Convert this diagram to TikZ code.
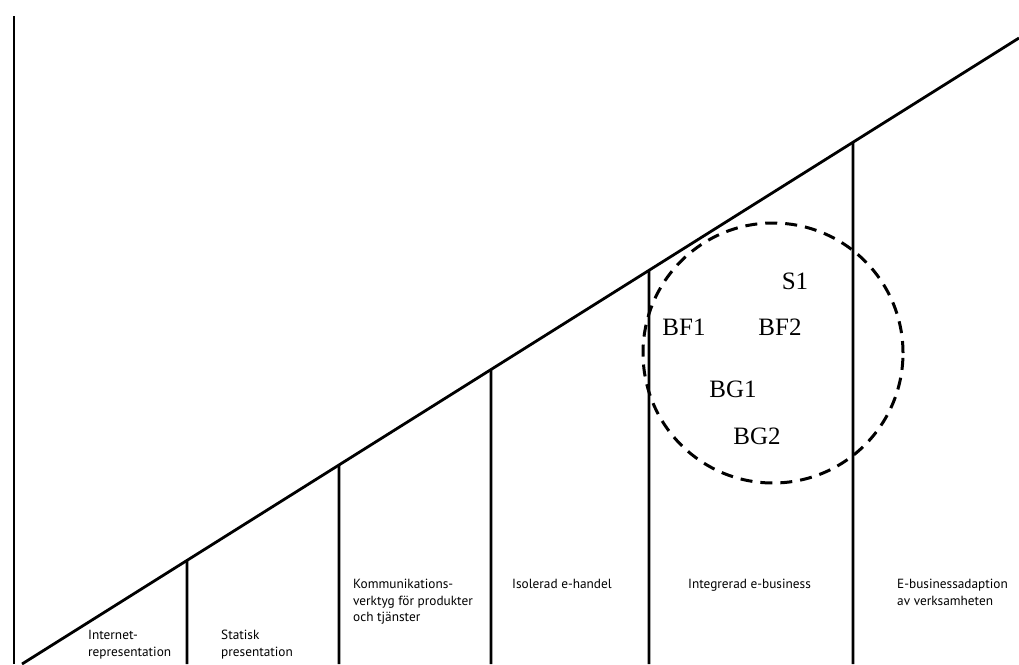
\documentclass[tikz,border=0pt]{standalone}
\usepackage{fontspec}
\setmainfont{Liberation Serif}
\newfontfamily\labelfont{PT Sans}
\begin{document}
\begin{tikzpicture}[x=1pt,y=-1pt,
  thick line/.style={line width=2.8pt,line cap=butt},
  stagetext/.style={font=\labelfont\fontsize{13.3}{16.5}\selectfont,anchor=north west,inner sep=0pt,align=left},
  codetext/.style={font=\fontsize{25}{28}\selectfont,inner sep=0pt},
  zone/.style={line width=3pt,dash pattern=on 12pt off 8pt}]
\useasboundingbox (0,0) rectangle (1019,664);
\clip (0,0) rectangle (1019,664);
% axis and slope
\coordinate (top) at (14,16);
\coordinate (origin) at (14,664);
\coordinate (A) at (22,664);
\coordinate (B) at (1019,38);
\draw[thick line] (top) -- (origin);
\draw[thick line] (A) -- (B);
% dividers
\foreach \x/\n in {187/d1,339/d2,491/d3,649/d4,853/d5}{
  \coordinate (\n b) at (\x,664);
  \draw[thick line] (intersection of A--B and \n b--{\x,0}) -- (\n b);
}
% stage labels
\node[stagetext] (s1) at (88,630) {Internet-\\representation};
\node[stagetext] (s2) at (221,630) {Statisk\\presentation};
\node[stagetext] (s3) at (353,579) {Kommunikations-\\verktyg för produkter\\och tjänster};
\node[stagetext] (s4) at (512,579) {Isolerad e-handel};
\node[stagetext] (s5) at (688,579) {Integrerad e-business};
\node[stagetext] (s6) at (897,579) {E-businessadaption\\av verksamheten};
% zone
\node[zone,draw,circle,minimum size=260pt,inner sep=0pt] (zone) at (773,353) {};
\node[codetext] (S1) at (795,281) {S1};
\node[codetext] (BF1) at (684,327) {BF1};
\node[codetext] (BF2) at (780,327) {BF2};
\node[codetext] (BG1) at (733,389) {BG1};
\node[codetext] (BG2) at (757,436) {BG2};
\end{tikzpicture}
\end{document}
